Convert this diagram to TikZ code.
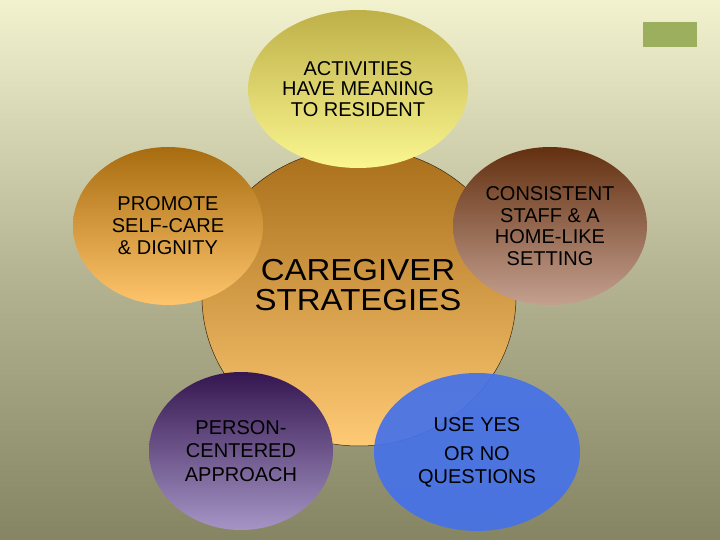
\documentclass[tikz,border=0pt]{standalone}
\usepackage{graphicx}
\usepackage{fontspec}
\setmainfont{Liberation Sans}
\usetikzlibrary{shapes.geometric}
\definecolor{bgtop}{HTML}{F2F2CF}
\definecolor{bgmid}{HTML}{B5B593}
\definecolor{bgbot}{HTML}{858564}
\definecolor{grn}{HTML}{9BAF5F}
\definecolor{ytop}{HTML}{BFB048}
\definecolor{ybot}{HTML}{FAF690}
\definecolor{ctop}{HTML}{A86E1A}
\definecolor{cbot}{HTML}{FFCA75}
\definecolor{ltop}{HTML}{A86C10}
\definecolor{lbot}{HTML}{FFC56C}
\definecolor{rtop}{HTML}{633010}
\definecolor{rbot}{HTML}{C4A090}
\definecolor{ptop}{HTML}{351650}
\definecolor{pbot}{HTML}{A595C5}
\definecolor{blu}{HTML}{4672E8}
\begin{document}
\begin{tikzpicture}[x=1pt,y=-1pt,
  blob/.style={ellipse, inner sep=0pt, align=center, text=black,
    font=\fontsize{20}{#1}\selectfont},
  bigtext/.style={inner sep=0pt, text=black}]
\useasboundingbox (0,0) rectangle (720,540);
\shade[top color=bgtop, bottom color=bgbot, middle color=bgmid] (0,0) rectangle (720,540);
\node[fill=grn, minimum width=54pt, minimum height=25pt, inner sep=0pt] (tag) at (670,34.5) {};
\node[ellipse, draw=black!70!brown, line width=0.5pt, top color=ctop, bottom color=cbot,
  minimum width=314pt, minimum height=298pt] (core) at (359,297) {};
\node[blob=20.5, top color=ytop, bottom color=ybot, minimum width=220pt, minimum height=158pt]
  (act) at (358,89) {ACTIVITIES\\HAVE MEANING\\TO RESIDENT};
\node[blob=22, top color=ltop, bottom color=lbot, minimum width=190pt, minimum height=158pt]
  (self) at (168,226) {PROMOTE\\SELF-CARE\\\& DIGNITY};
\node[blob=21.7, top color=rtop, bottom color=rbot, minimum width=194pt, minimum height=158pt]
  (cons) at (550,226) {CONSISTENT\\STAFF \& A\\HOME-LIKE\\SETTING};
\node[blob=23.5, top color=ptop, bottom color=pbot, minimum width=184pt, minimum height=158pt]
  (pers) at (241,451) {PERSON-\\CENTERED\\APPROACH};
\node[blob=23, fill=blu, fill opacity=0.93, text opacity=1, minimum width=206pt, minimum height=158pt]
  (yes) at (477,452) {USE YES\\[6pt]OR NO\\QUESTIONS};
\node[bigtext] (title) at (358,289)
  {\scalebox{1}[0.92]{\fontsize{33}{32.6}\selectfont\begin{tabular}{@{}c@{}}CAREGIVER\\STRATEGIES\end{tabular}}};
\end{tikzpicture}
\end{document}
